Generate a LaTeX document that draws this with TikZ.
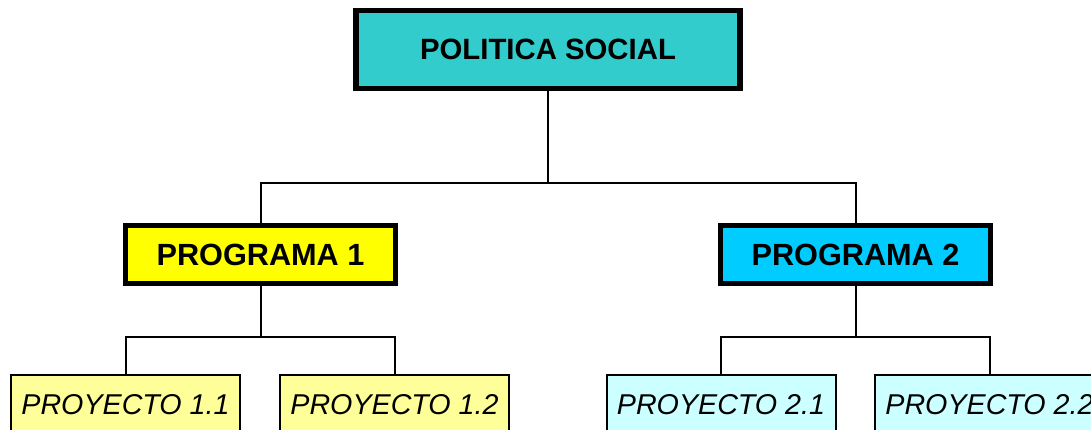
\documentclass[tikz,border=0pt]{standalone}
\usepackage{fontspec}
\setmainfont{Liberation Sans}
\usetikzlibrary{calc}

\definecolor{politica}{RGB}{51,204,204}
\definecolor{prog1}{RGB}{255,255,0}
\definecolor{prog2}{RGB}{0,204,255}
\definecolor{proy1}{RGB}{255,255,153}
\definecolor{proy2}{RGB}{204,255,255}

\begin{document}
\begin{tikzpicture}[x=0.75pt,y=-0.75pt,
    cajamayor/.style={draw,line width=3.8pt,minimum width=288pt,minimum height=58.5pt,
        font=\fontsize{22}{26}\selectfont\bfseries},
    cajaprog/.style={draw,line width=3.8pt,minimum width=202.5pt,minimum height=43.5pt,
        font=\fontsize{23}{27}\selectfont\bfseries},
    cajaproy/.style={draw,line width=1.5pt,minimum width=171.75pt,minimum height=45pt,
        font=\fontsize{21.5}{25}\selectfont\itshape},
    enlace/.style={line width=1.5pt}]
                \useasboundingbox (0,0) rectangle (1091,429);

                \node[cajamayor,fill=politica] (pol) at (548,49.5) {POLITICA SOCIAL};

                \node[cajaprog,fill=prog1] (prog1) at (260.5,254.5) {PROGRAMA 1};
                \node[cajaprog,fill=prog2] (prog2) at (855.5,254.5) {PROGRAMA 2};

                \node[cajaproy,fill=proy1] (proy11) at (125.5,405) {PROYECTO 1.1};
                \node[cajaproy,fill=proy1] (proy12) at (394.5,405) {PROYECTO 1.2};
                \node[cajaproy,fill=proy2] (proy21) at (721,405) {PROYECTO 2.1};
                \node[cajaproy,fill=proy2] (proy22) at (989.5,405) {PROYECTO 2.2};

                \coordinate (j1) at (548,183);
                \coordinate (j2) at (260.5,337);
                \coordinate (j3) at (855.5,337);

                \draw[enlace] (pol) -- (j1);
                \draw[enlace] (prog1.north) |- (j1) -| (prog2.north);

                \draw[enlace] (prog1) -- (j2);
                \draw[enlace] (proy11.north) |- (j2) -| (proy12.north);

                \draw[enlace] (prog2) -- (j3);
                \draw[enlace] (proy21.north) |- (j3) -| (proy22.north);
            \end{tikzpicture}
\end{document}
